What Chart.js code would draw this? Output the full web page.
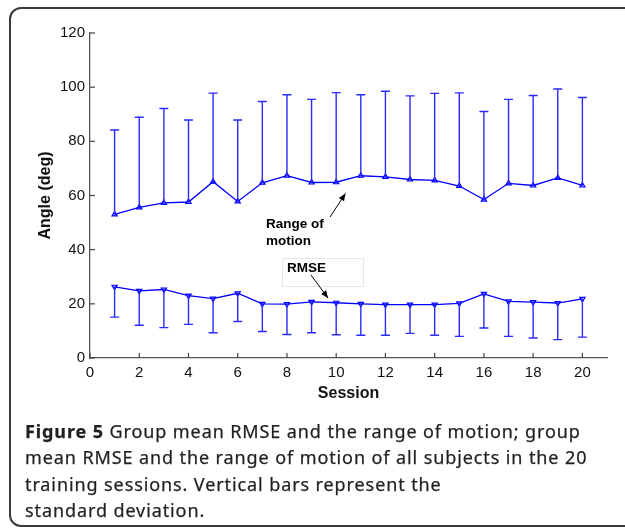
<!DOCTYPE html>
<html>
<head>
<meta charset="utf-8">
<script src="https://cdn.jsdelivr.net/npm/chart.js@4/dist/chart.umd.min.js"></script>
<style>
body { margin: 0; background: #fff; width: 625px; height: 531px; overflow: hidden; position: relative; }
#frame { position: absolute; left: 9px; top: 7px; width: 640px; height: 520px; border: 2px solid #3a3a3a; border-radius: 12px; box-sizing: border-box; }
#graph { position: absolute; left: 0; top: 0; }
#caption { position: absolute; left: 25px; top: 418px; font-family: "Noto Sans", sans-serif; font-size: 18px; letter-spacing: 0.9px; line-height: 26.3px; color: #231f20; white-space: nowrap; -webkit-text-stroke: 0.25px #231f20; }
#caption b { font-weight: bold; }
</style>
</head>
<body>
<div id="frame"></div>
<canvas id="graph" width="625" height="531"></canvas>
<div id="caption"><b>Figure 5</b> Group mean RMSE and the range of motion; group<br>mean RMSE and the range of motion of all subjects in the 20<br>training sessions. Vertical bars represent the<br>standard deviation.</div>
<script>
var sessions = [1, 2, 3, 4, 5, 6, 7, 8, 9, 10, 11, 12, 13, 14, 15, 16, 17, 18, 19, 20]
// range of motion : mean and standard deviation
var romMean = [53.0, 55.6, 57.3, 57.6, 65.1, 57.8, 64.7, 67.3, 64.8, 64.9, 67.3, 66.9, 65.9, 65.6, 63.5, 58.5, 64.5, 63.7, 66.5, 63.7]
var romSd = [31.2, 33.3, 34.8, 30.3, 32.7, 30.1, 30.0, 29.9, 30.7, 33.1, 29.9, 31.6, 30.9, 32.1, 34.4, 32.5, 31.0, 33.2, 32.8, 32.5]
// RMSE : mean and standard deviation
var rmseMean = [26.3, 24.8, 25.3, 23.0, 21.9, 23.9, 20.0, 19.9, 20.7, 20.4, 20.0, 19.7, 19.7, 19.7, 20.2, 23.7, 20.9, 20.6, 20.3, 21.8]
var rmseSd = [11.2, 12.7, 14.1, 10.6, 12.6, 10.4, 10.2, 11.2, 11.4, 11.8, 11.6, 11.3, 10.6, 11.3, 12.2, 12.6, 12.9, 13.2, 13.5, 14.1]
var yTicks = [0, 20, 40, 60, 80, 100, 120]
var xTicks = [0, 2, 4, 6, 8, 10, 12, 14, 16, 18, 20]

var blue = '#0000ff'
var romPts = sessions.map(function (s, i) { return {x: s, y: romMean[i]} })
var rmsePts = sessions.map(function (s, i) { return {x: s, y: rmseMean[i]} })

// error bars : upward for range of motion, downward for RMSE
var errorBars = {
	id: 'errorBars',
	afterDatasetsDraw: function (chart) {
		var ctx = chart.ctx
		var xs = chart.scales.x, ys = chart.scales.y
		ctx.save()
		ctx.strokeStyle = '#2a2aff'
		ctx.lineWidth = 1.4
		sessions.forEach(function (s, i) {
			var px = xs.getPixelForValue(s)
			var bars = [[romMean[i], romMean[i] + romSd[i]], [rmseMean[i], rmseMean[i] - rmseSd[i]]]
			bars.forEach(function (b) {
				var y0 = ys.getPixelForValue(b[0]), y1 = ys.getPixelForValue(b[1])
				ctx.beginPath()
				ctx.moveTo(px, y0); ctx.lineTo(px, y1)
				ctx.moveTo(px - 4.5, y1); ctx.lineTo(px + 4.5, y1)
				ctx.stroke()
			})
		})
		ctx.restore()
	}
}

// inward ticks (matlab style) and annotations
var extras = {
	id: 'extras',
	afterDraw: function (chart) {
		var ctx = chart.ctx
		var xs = chart.scales.x, ys = chart.scales.y
		var a = chart.chartArea
		ctx.save()
		ctx.strokeStyle = '#444'
		ctx.lineWidth = 1.2
		yTicks.forEach(function (v) {
			var py = ys.getPixelForValue(v)
			ctx.beginPath(); ctx.moveTo(a.left, py); ctx.lineTo(a.left + 5, py); ctx.stroke()
		})
		xTicks.forEach(function (v) {
			var px = xs.getPixelForValue(v)
			ctx.beginPath(); ctx.moveTo(px, a.bottom); ctx.lineTo(px, a.bottom - 5); ctx.stroke()
		})

		// RMSE label box
		ctx.strokeStyle = '#e6e6e6'
		ctx.lineWidth = 1
		ctx.strokeRect(282.5, 258.5, 81, 28)

		ctx.fillStyle = '#000'
		ctx.font = 'bold 13.5px "Liberation Sans", Arial, sans-serif'
		ctx.textBaseline = 'middle'
		ctx.textAlign = 'left'
		ctx.fillText('Range of', 266, 224)
		ctx.fillText('motion', 266, 241)
		ctx.fillText('RMSE', 287, 268)

		function arrow(x0, y0, x1, y1) {
			ctx.strokeStyle = '#000'
			ctx.fillStyle = '#000'
			ctx.lineWidth = 1
			ctx.beginPath(); ctx.moveTo(x0, y0); ctx.lineTo(x1, y1); ctx.stroke()
			var ang = Math.atan2(y1 - y0, x1 - x0)
			ctx.beginPath()
			ctx.moveTo(x1, y1)
			ctx.lineTo(x1 - 8 * Math.cos(ang - 0.4), y1 - 8 * Math.sin(ang - 0.4))
			ctx.lineTo(x1 - 8 * Math.cos(ang + 0.4), y1 - 8 * Math.sin(ang + 0.4))
			ctx.closePath()
			ctx.fill()
		}
		arrow(330, 217, 345.5, 193.5)
		arrow(311, 275, 328, 298)
		ctx.restore()
	}
}

var ctx = document.getElementById('graph').getContext('2d')
var myChart = new Chart(ctx, {
	type: 'line',
	data: {
		datasets: [{
			label: 'Range of motion',
			data: romPts,
			borderColor: blue,
			backgroundColor: 'rgba(80,80,255,0.35)',
			borderWidth: 1.3,
			pointStyle: 'triangle',
			pointRadius: 3,
			pointBorderWidth: 1.2
		}, {
			label: 'RMSE',
			data: rmsePts,
			borderColor: blue,
			backgroundColor: 'rgba(80,80,255,0.35)',
			borderWidth: 1.3,
			pointStyle: 'triangle',
			pointRotation: 180,
			pointRadius: 3,
			pointBorderWidth: 1.2
		}]
	},
	options: {
		responsive: false,
		animation: false,
		devicePixelRatio: 1,
		layout: { padding: { left: 0, top: 33, right: 18, bottom: 123 } },
		plugins: { legend: { display: false }, tooltip: { enabled: false } },
		scales: {
			x: {
				type: 'linear',
				min: 0,
				max: 21,
				afterBuildTicks: function (axis) { axis.ticks = xTicks.map(function (v) { return {value: v} }) },
				afterFit: function (axis) { axis.height = 50 },
				grid: { display: false, drawTicks: false },
				border: { display: true, color: '#555', width: 1.3 },
				ticks: { color: '#111', padding: 6, font: { family: '"Liberation Sans", Arial', size: 15 }, maxRotation: 0 },
				title: { display: true, text: 'Session', color: '#111', padding: { top: 0, bottom: 4.6 }, font: { family: '"Liberation Sans", Arial', size: 16, weight: 'bold' } }
			},
			y: {
				min: 0,
				max: 120,
				afterBuildTicks: function (axis) { axis.ticks = yTicks.map(function (v) { return {value: v} }) },
				afterFit: function (axis) { axis.width = 90 },
				grid: { display: false, drawTicks: false },
				border: { display: true, color: '#555', width: 1.3 },
				ticks: { color: '#111', padding: 5, font: { family: '"Liberation Sans", Arial', size: 15 } },
				title: { display: true, text: 'Angle (deg)', color: '#111', padding: { top: 35.5, bottom: 0 }, font: { family: '"Liberation Sans", Arial', size: 16, weight: 'bold' } }
			}
		}
	},
	plugins: [errorBars, extras]
})
</script>
</body>
</html>
